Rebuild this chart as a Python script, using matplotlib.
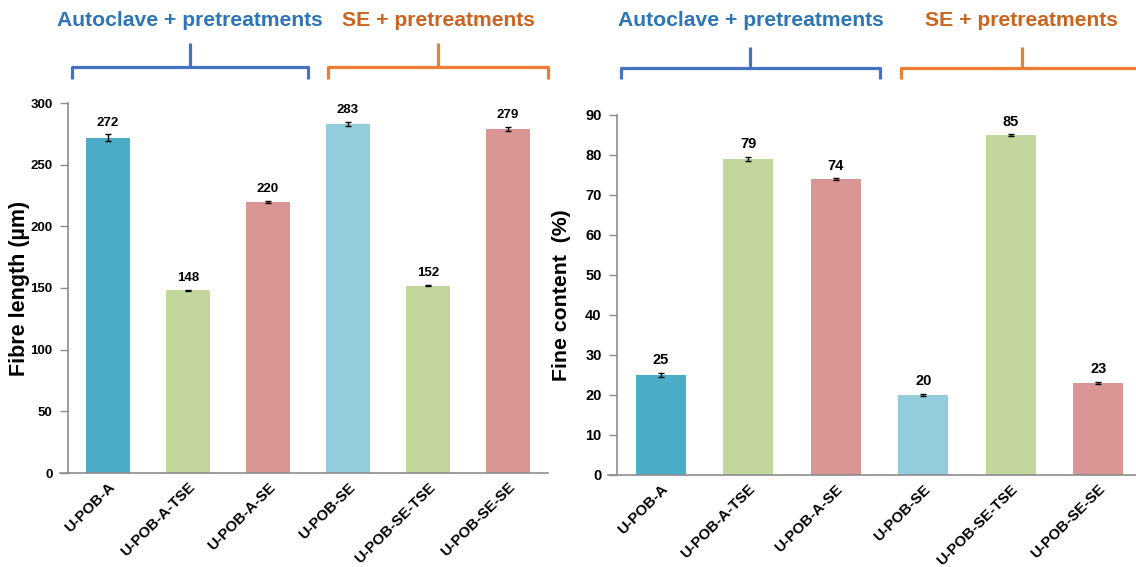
import matplotlib
matplotlib.use("Agg")
import matplotlib.pyplot as plt
import matplotlib.transforms as mtransforms
from matplotlib.path import Path
from matplotlib.patches import PathPatch

plt.rcParams['font.family'] = ['Liberation Sans', 'DejaVu Sans']
plt.rcParams['font.weight'] = 'bold'

# ---- data ----
samples = ["U-POB-A", "U-POB-A-TSE", "U-POB-A-SE",
           "U-POB-SE", "U-POB-SE-TSE", "U-POB-SE-SE"]
fibre_length = [272, 148, 220, 283, 152, 279]
fibre_length_err = [2.5, 0.5, 0.8, 2.0, 0.5, 1.8]
fine_content = [25, 79, 74, 20, 85, 23]
fine_content_err = [0.5, 0.5, 0.2, 0.3, 0.15, 0.3]
group_titles = ["Autoclave + pretreatments", "SE + pretreatments"]
# bracket extent of each treatment group, in category units
group_spans = [(-0.45, 2.5), (2.75, 5.5)]

bar_colors = ["#4BACC6", "#C3D69B", "#D99694", "#93CDDD", "#C3D69B", "#D99694"]
title_colors = ["#2E75B6", "#C9651E"]
brace_colors = ["#4472C4", "#ED7D31"]
spine_gray = "#8C8C8C"

W, H = 1136, 567
fig = plt.figure(figsize=(W / 100, H / 100), dpi=100)


def px_axes(x0, y_top, x1, y_bot):
    return fig.add_axes([x0 / W, 1 - y_bot / H, (x1 - x0) / W, (y_bot - y_top) / H])


def style(ax, ymax, step, ylabel, ytick_fs, xtick_fs, label_fs, label_x):
    n = len(samples)
    ax.set_xlim(-0.5, n - 0.5)
    ax.set_ylim(0, ymax)
    ax.set_yticks(range(0, ymax + 1, step))
    for s in ("top", "right"):
        ax.spines[s].set_visible(False)
    for s in ("left", "bottom"):
        ax.spines[s].set_color(spine_gray)
        ax.spines[s].set_linewidth(1.2)
    ax.spines["bottom"].set_bounds(-0.6, n - 0.5)
    ax.tick_params(axis="y", colors=spine_gray, labelcolor="black",
                   labelsize=ytick_fs, length=6, width=1, pad=5)
    ax.tick_params(axis="x", length=0, labelsize=xtick_fs, pad=5)
    ax.set_xticks(range(n))
    ax.set_xticklabels(samples, rotation=45, ha="right", va="top",
                       rotation_mode="anchor", fontweight="bold")
    for lab in ax.get_yticklabels():
        lab.set_fontweight("bold")
    ax.set_ylabel(ylabel, fontsize=label_fs, fontweight="bold")
    ax.yaxis.set_label_coords(label_x, 0.5)


def bars(ax, values, errs, width, val_fs):
    x = range(len(values))
    ax.bar(x, values, width=width, color=bar_colors, zorder=2)
    ax.errorbar(x, values, yerr=errs, fmt="none", ecolor="black",
                elinewidth=1, capsize=2.5, capthick=1, zorder=3)
    for xi, v, e in zip(x, values, errs):
        ax.annotate(f"{v}", (xi, v + e), xytext=(0, 4), textcoords="offset points",
                    ha="center", va="bottom", fontsize=val_fs, fontweight="bold")


def braces(ax, y_line, y_end, y_stem, y_text, title_fs):
    # x in category units, y in figure pixels measured from the top
    trans = mtransforms.blended_transform_factory(ax.transData, fig.transFigure)
    fy = lambda p: 1 - p / H
    for (left, right), title, tcol, bcol in zip(group_spans, group_titles,
                                                title_colors, brace_colors):
        mid = (left + right) / 2
        verts = [(left, fy(y_end)), (left, fy(y_line)), (right, fy(y_line)),
                 (right, fy(y_end))]
        codes = [Path.MOVETO, Path.LINETO, Path.LINETO, Path.LINETO]
        ax.add_patch(PathPatch(Path(verts, codes), transform=trans, fill=False,
                               edgecolor=bcol, linewidth=2.3, clip_on=False,
                               joinstyle="round", capstyle="butt"))
        ax.add_patch(PathPatch(Path([(mid, fy(y_line)), (mid, fy(y_stem))],
                                    [Path.MOVETO, Path.LINETO]),
                               transform=trans, fill=False, edgecolor=bcol,
                               linewidth=2.3, clip_on=False))
        ax.text(mid, fy(y_text), title, transform=trans, ha="center",
                va="center", color=tcol, fontsize=title_fs, fontweight="bold",
                clip_on=False)


# ---- left: fibre length ----
ax1 = px_axes(68, 103, 548, 473)
style(ax1, 300, 50, "Fibre length (µm)", 9.5, 10.8, 15.5, -0.079)
bars(ax1, fibre_length, fibre_length_err, 0.56, 9.5)
braces(ax1, 67, 79, 43, 20, 15.2)

# ---- right: fine content ----
ax2 = px_axes(617, 115, 1142, 475)
style(ax2, 90, 10, "Fine content  (%)", 10.5, 10.8, 15.3, -0.088)
bars(ax2, fine_content, fine_content_err, 0.57, 10.5)
braces(ax2, 68, 79, 47, 20, 15.2)

fig.savefig("out.png", dpi=100)
